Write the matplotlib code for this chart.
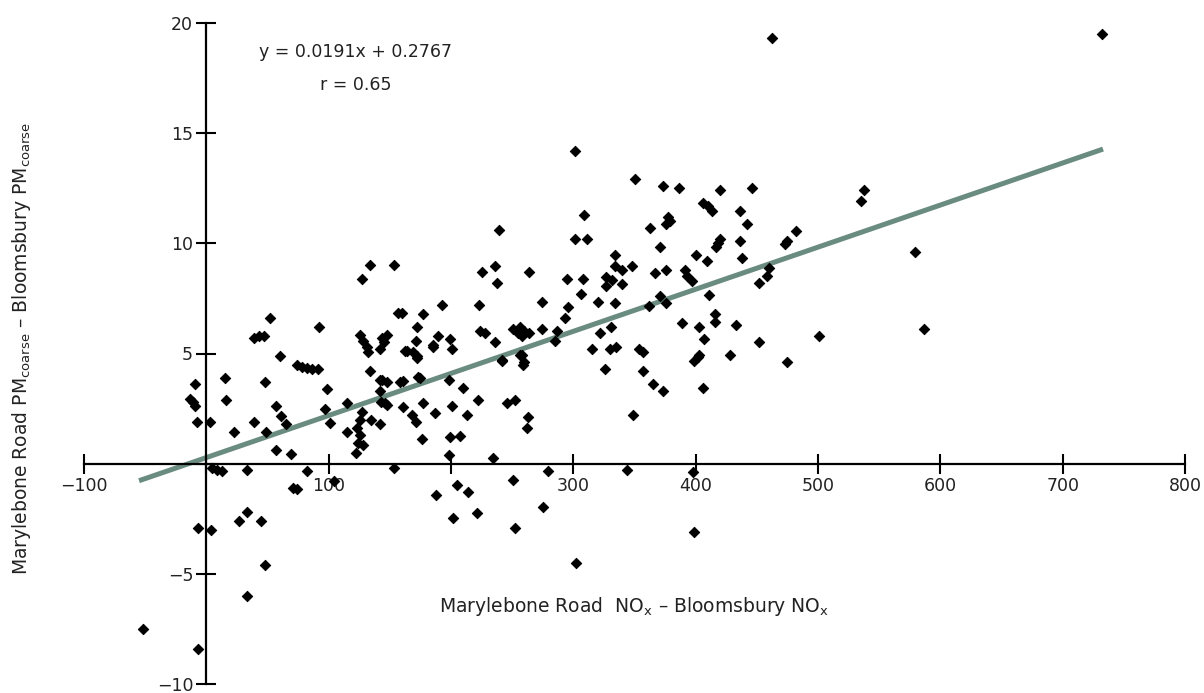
import matplotlib
matplotlib.use("Agg")
import matplotlib.pyplot as plt
import numpy as np

# Scatter data (NOx difference, PMcoarse difference)
nox_diff = [
    -52, -7, -9.5, -13, -11, -9, -8, -6.5,
    3, 4, 15, 16, 23, 39, 39, 43, 47, 52, 48, 49, 5, 9, 13, 33, 27, 33, 45, 48, 33,
    60, 57, 61, 65, 57, 69, 74, 78, 82, 86, 91, 92, 82, 71, 74, 99, 97,
    101, 104, 115, 115, 127, 126, 123, 126, 124, 128, 122, 135, 142, 134, 142, 142, 143,
    146, 148, 158, 126, 128, 131, 132, 144, 148, 145, 142, 157, 134, 153, 127, 153, 160,
    144, 148, 164, 172,
    161, 168, 171, 177, 187, 201, 213, 176, 210, 199, 207, 198, 172, 171, 172, 162, 169,
    185, 189, 199, 201, 185, 177, 193, 173, 205, 188, 214, 202, 161, 175, 198, 242,
    224, 228, 236, 251, 256, 260, 264, 258, 255, 274, 287, 285, 256, 260, 242, 225, 236,
    238, 264, 239, 274, 223, 295, 296, 293, 222, 246, 252, 263, 262, 234, 279, 251, 221,
    275, 252, 258, 259,
    301, 309, 301, 311, 308, 306, 320, 315, 322, 331, 330, 335, 326, 302, 350, 373, 386,
    377, 379, 376, 363, 371, 334, 334, 327, 327, 332, 340, 340, 348, 367, 376, 391, 393,
    397, 371, 376, 362, 334, 389, 354, 357, 357, 365, 373, 349, 344, 398, 399, 399, 402,
    403, 403, 407, 416, 416, 433, 428, 452, 475, 406, 411, 400, 409, 420, 446, 406, 410,
    413, 436, 442, 418, 417, 420, 436, 438, 473, 475, 482, 460, 458, 452, 462,
    501, 538, 535, 579, 587, 732,
]
pm_diff = [
    -7.5, -8.4, 3.6, 2.95, 2.8, 2.6, 1.9, -2.9,
    1.9, -3.0, 3.9, 2.9, 1.45, 1.9, 5.7, 5.8, 5.8, 6.6, 3.7, 1.45, -0.2, -0.3, -0.35, -0.3, -2.6, -2.2, -2.6, -4.6, -6.0,
    4.9, 2.6, 2.15, 1.8, 0.6, 0.45, 4.5, 4.4, 4.35, 4.3, 4.3, 6.2, -0.35, -1.1, -1.15, 3.4, 2.5,
    1.85, -0.8, 2.75, 1.45, 2.35, 2.0, 1.6, 1.3, 0.95, 0.85, 0.5, 2.0, 1.8, 4.2, 3.8, 3.3, 2.8,
    2.75, 2.65, 3.7, 5.85, 5.55, 5.3, 5.05, 5.7, 5.85, 5.5, 5.2, 6.85, 9.0, 9.0, 8.4, -0.2, 6.85,
    3.8, 3.7, 5.1, 4.8,
    2.55, 2.2, 1.9, 2.75, 2.3, 2.6, 2.2, 1.1, 3.45, 1.2, 1.25, 0.4, 6.2, 5.55, 4.9, 5.1, 5.05,
    5.4, 5.8, 5.65, 5.2, 5.3, 6.8, 7.2, 3.95, -0.95, -1.4, -1.3, -2.45, 3.75, 3.9, 3.8, 4.65,
    6.0, 5.95, 5.5, 6.1, 6.2, 6.0, 5.95, 5.8, 5.95, 6.1, 6.0, 5.55, 4.95, 4.6, 4.7, 8.7, 8.95,
    8.2, 8.7, 10.6, 7.35, 7.2, 8.4, 7.1, 6.6, 2.9, 2.75, 2.9, 2.1, 1.6, 0.25, -0.35, -0.75, -2.25,
    -1.95, -2.9, 4.95, 4.5,
    14.2, 11.3, 10.2, 10.2, 8.4, 7.7, 7.35, 5.2, 5.95, 6.2, 5.2, 5.3, 4.3, -4.5, 12.9, 12.6, 12.5,
    11.2, 11.0, 10.9, 10.7, 9.85, 9.45, 8.95, 8.45, 8.05, 8.35, 8.15, 8.8, 8.95, 8.65, 8.8, 8.8, 8.5,
    8.3, 7.6, 7.3, 7.15, 7.3, 6.4, 5.2, 5.05, 4.2, 3.6, 3.3, 2.2, -0.3, -0.4, -3.1, 4.65, 4.85,
    4.95, 6.2, 5.65, 6.8, 6.45, 6.3, 4.95, 5.5, 4.6, 3.45, 7.65, 9.45, 9.2, 12.4, 12.5, 11.85, 11.7,
    11.45, 11.45, 10.9, 10.0, 9.85, 10.2, 10.1, 9.35, 9.95, 10.1, 10.55, 8.9, 8.5, 8.2, 19.3,
    5.8, 12.4, 11.9, 9.6, 6.1, 19.5,
]

# Regression line
slope = 0.0191
intercept = 0.2767
line_x = np.array([-55, 733])

x_ticks = [-100, 0, 100, 200, 300, 400, 500, 600, 700, 800]
x_tick_labels = ["\u2212100", "", "100", "", "300", "400", "500", "600", "700", "800"]
y_ticks = [-10, -5, 0, 5, 10, 15, 20]
y_tick_labels = ["\u221210", "\u22125", "", "5", "10", "15", "20"]

DASH = "\u2013"

fig = plt.figure(figsize=(12.04, 6.93), dpi=100)
ax = fig.add_axes([84 / 1204, 1 - 684 / 693, (1185 - 84) / 1204, (684 - 23) / 693])
ax.set_xlim(-100, 800)
ax.set_ylim(-10, 20)

ax.plot(line_x, slope * line_x + intercept, color="#6a8c80", lw=3.6, solid_capstyle="butt", zorder=2)
ax.scatter(nox_diff, pm_diff, marker="D", s=28, color="black", edgecolors="black", linewidths=0.7, zorder=3)

for s in ["top", "right"]:
    ax.spines[s].set_visible(False)
ax.spines["left"].set_position(("data", 0))
ax.spines["bottom"].set_position(("data", 0))
ax.spines["left"].set_linewidth(1.6)
ax.spines["bottom"].set_linewidth(1.6)

ax.set_xticks(x_ticks)
ax.set_xticklabels(x_tick_labels)
ax.set_yticks(y_ticks)
ax.set_yticklabels(y_tick_labels)
ax.tick_params(direction="inout", length=15, width=1.5, labelsize=12.5, color="black", labelcolor="#222222")
ax.tick_params(axis="x", pad=2)
ax.tick_params(axis="y", pad=2)
ax.patch.set_alpha(0)

ax.text(122, 18.7, "y = 0.0191x + 0.2767", ha="center", va="center", fontsize=12.5, color="#222222")
ax.text(122, 17.2, "r = 0.65", ha="center", va="center", fontsize=12.5, color="#222222")

fig.text(634 / 1204, 1 - 606 / 693,
         "Marylebone Road  NO$_\\mathregular{x}$ " + DASH + " Bloomsbury NO$_\\mathregular{x}$",
         ha="center", va="center", fontsize=13.5, color="#222222")
fig.text(22 / 1204, 1 - 348 / 693,
         "Marylebone Road PM$_\\mathregular{coarse}$ " + DASH + " Bloomsbury PM$_\\mathregular{coarse}$",
         rotation=90, ha="center", va="center", fontsize=13.5, color="#222222")

fig.savefig("out.png", dpi=100)
